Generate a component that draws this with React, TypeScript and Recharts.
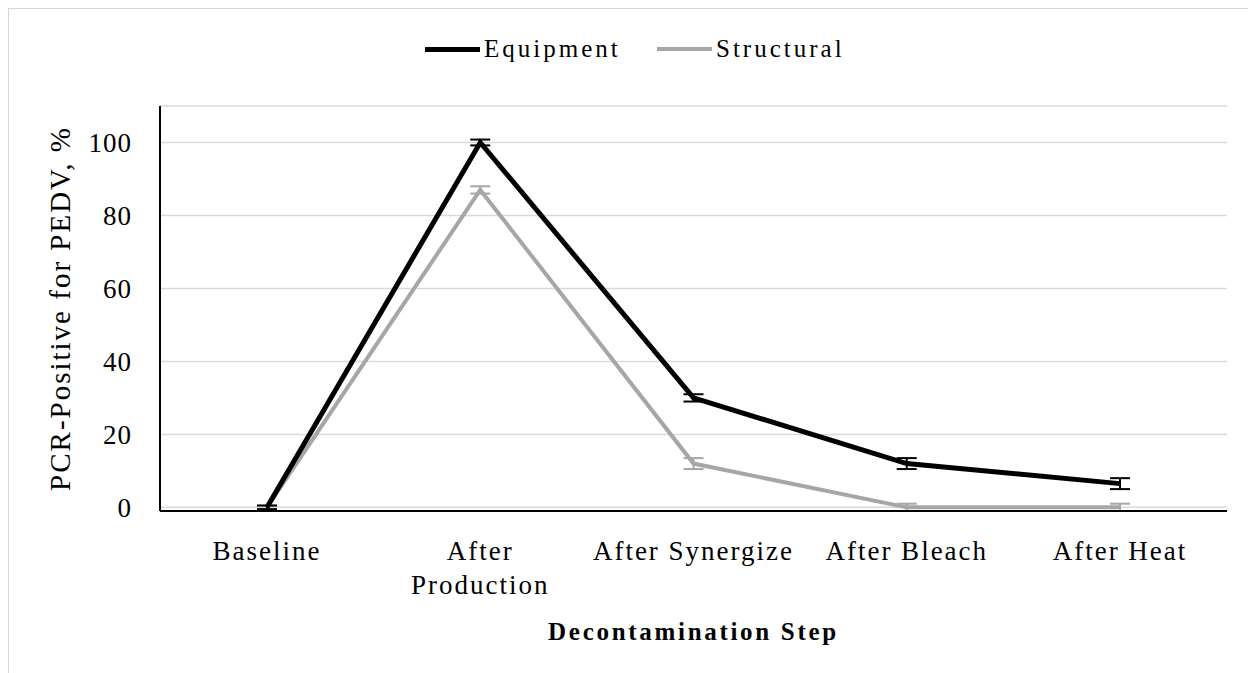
// PCR-positive rate across decontamination steps — line chart with error bars

import { LineChart, Line, XAxis, YAxis, CartesianGrid, ErrorBar, Label } from 'recharts';

const categories = ['Baseline', 'After Production', 'After Synergize', 'After Bleach', 'After Heat'];
const tickLines = [['Baseline'], ['After', 'Production'], ['After Synergize'], ['After Bleach'], ['After Heat']];
const equipment = [0, 100, 30, 12, 6.5];
const equipmentErr = [0.5, 0.8, 1, 1.5, 1.5];
const structural = [0, 87, 12, 0, 0];
const structuralErr = [0.5, 1, 1.5, 1, 1];
const yTicks = [0, 20, 40, 60, 80, 100];
const seriesNames = ['Equipment', 'Structural'];
const seriesColors = ['#000000', '#a6a6a6'];

const data = categories.map((name, i) => ({
  name,
  equipment: equipment[i],
  equipmentErr: equipmentErr[i],
  structural: structural[i],
  structuralErr: structuralErr[i],
}));

const FONT = '"Liberation Serif", "Times New Roman", serif';

function XTick({ x, y, payload, index }: any) {
  const lines = tickLines[index] ?? [payload.value];
  return (
    <text x={x} y={y + 49} textAnchor="middle" fontFamily={FONT} fontSize={27} letterSpacing={2} fill="#000">
      {lines.map((l: string, i: number) => (
        <tspan key={i} x={x} dy={i === 0 ? 0 : 34}>{l}</tspan>
      ))}
    </text>
  );
}

export default function App() {
  return (
    <div
      style={{
        position: 'relative',
        width: 1246,
        height: 680,
        border: '1px solid #d6d6d6',
        boxSizing: 'border-box',
        background: '#fff',
      }}
    >
      {/* legend */}
      <div style={{ position: 'absolute', top: 0, left: 0, width: '100%', height: 0 }}>
        {seriesNames.map((n, i) => (
          <div key={n} style={{ position: 'absolute', top: 26, left: i === 0 ? 416 : 648, display: 'flex', alignItems: 'center' }}>
            <div style={{ width: 55, height: i === 0 ? 5 : 4, background: seriesColors[i] }} />
            <span style={{ fontFamily: FONT, fontSize: 25, letterSpacing: 3, marginLeft: 4, color: '#000' }}>{n}</span>
          </div>
        ))}
      </div>
      <LineChart width={1244} height={670} data={data} margin={{ top: 97, right: 26, left: 0, bottom: 0 }}>
        <CartesianGrid vertical={false} stroke="#d9d9d9" strokeWidth={1.5} />
        <XAxis
          dataKey="name"
          height={168}
          padding={{ left: 107, right: 107 }}
          tick={<XTick />}
          tickLine={false}
          tickSize={0}
          tickMargin={0}
          interval={0}
          axisLine={{ stroke: '#000', strokeWidth: 2 }}
        >
          <Label
            content={({ viewBox }: any) => (
              <text
                x={viewBox.x + viewBox.width / 2}
                y={631}
                textAnchor="middle"
                fontFamily={FONT}
                fontSize={25}
                fontWeight="bold"
                letterSpacing={2.7}
                fill="#000"
              >
                Decontamination  Step
              </text>
            )}
          />
        </XAxis>
        <YAxis
          width={151}
          domain={[0, 110]}
          ticks={yTicks}
          tickLine={false}
          tickSize={0}
          tickMargin={28}
          tick={{ fontFamily: FONT, fontSize: 27, fill: '#000', letterSpacing: 1 }}
          axisLine={{ stroke: '#000', strokeWidth: 2 }}
        >
          <Label
            content={({ viewBox }: any) => {
              const cy = viewBox.y + viewBox.height / 2;
              return (
                <text
                  x={51}
                  y={cy}
                  transform={`rotate(-90 51 ${cy})`}
                  textAnchor="middle"
                  dominantBaseline="central"
                  fontFamily={FONT}
                  fontSize={29}
                  letterSpacing={2}
                  fill="#000"
                >
                  PCR-Positive for PEDV, %
                </text>
              );
            }}
          />
        </YAxis>
        <Line
          dataKey="structural"
          stroke={seriesColors[1]}
          strokeWidth={4}
          dot={false}
          isAnimationActive={false}
        >
          <ErrorBar dataKey="structuralErr" width={10} stroke={seriesColors[1]} strokeWidth={2} />
        </Line>
        <Line
          dataKey="equipment"
          stroke={seriesColors[0]}
          strokeWidth={5}
          dot={false}
          isAnimationActive={false}
        >
          <ErrorBar dataKey="equipmentErr" width={10} stroke={seriesColors[0]} strokeWidth={2} />
        </Line>
      </LineChart>
    </div>
  );
}
